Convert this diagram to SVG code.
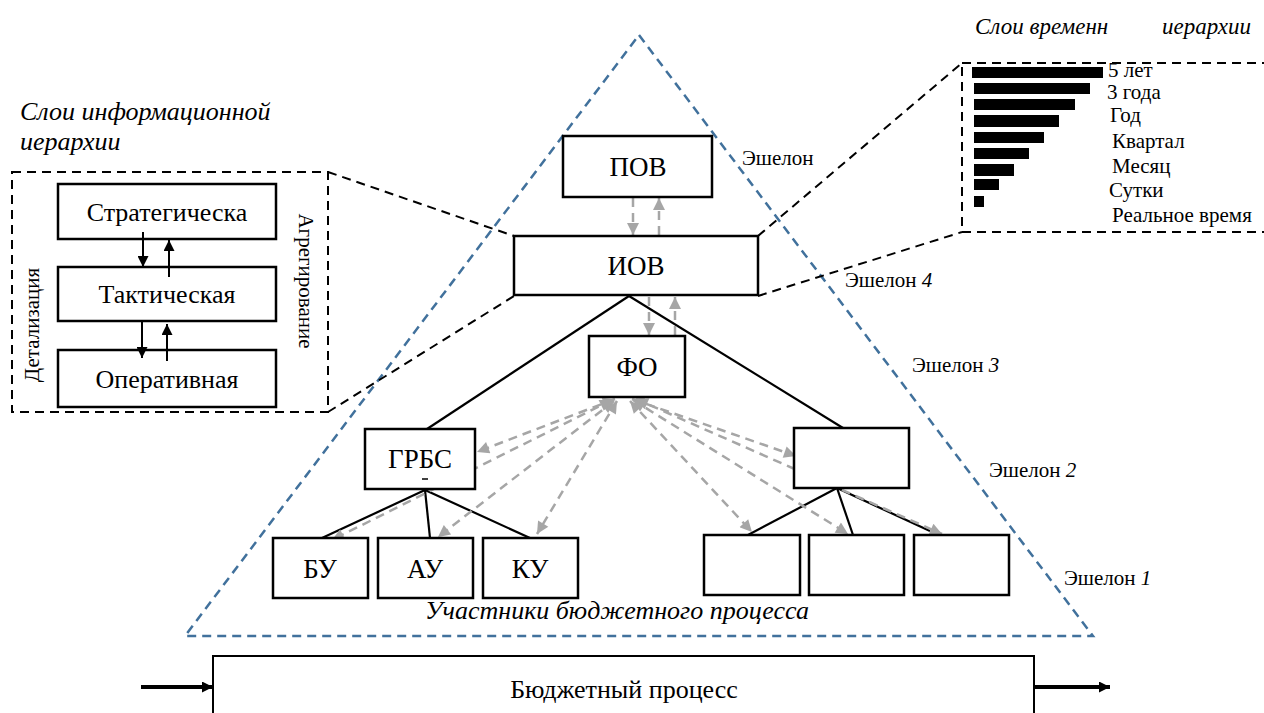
<svg xmlns="http://www.w3.org/2000/svg" width="1264" height="713" viewBox="0 0 1264 713" font-family="'Liberation Serif', 'Times New Roman', serif">
<style>
text{font-family:"Liberation Serif","Times New Roman",serif;fill:#000}
.it{font-style:italic}
.box{fill:#fff;stroke:#000;stroke-width:2.5}
.tri{fill:none;stroke:#41719c;stroke-width:2.5;stroke-dasharray:9 6}
.proj{fill:none;stroke:#000;stroke-width:2;stroke-dasharray:9 6}
.tree{stroke:#000;stroke-width:2.2;fill:none}
.ga{stroke:#a6a6a6;stroke-width:2.5;stroke-dasharray:9 6;fill:none}
.ba{stroke:#000;stroke-width:2;fill:none}
.bar{fill:#000}
.lbl{font-size:27px;text-anchor:middle}
.lay{font-size:26px;text-anchor:middle}
.ech{font-size:21px}
.tl{font-size:21px}
</style>
<defs>
<marker id="mg" viewBox="0 0 10 10" refX="10" refY="5" markerWidth="15" markerHeight="12" markerUnits="userSpaceOnUse" orient="auto-start-reverse">
<path d="M0,0 L10,5 L0,10 z" fill="#a6a6a6"/>
</marker>
<marker id="mb" viewBox="0 0 10 10" refX="10" refY="5" markerWidth="13" markerHeight="11" markerUnits="userSpaceOnUse" orient="auto">
<path d="M0,0 L10,5 L0,10 z" fill="#000"/>
</marker>
</defs>

<!-- echelon triangle -->
<polygon class="tri" points="639,35 1093,636 185,636"/>

<!-- projection lines -->
<g id="projections">
<line class="proj" x1="328" y1="172" x2="514" y2="236"/>
<line class="proj" x1="328" y1="412" x2="514" y2="296"/>
<line class="proj" x1="758" y1="236" x2="962" y2="63"/>
<line class="proj" x1="758" y1="296" x2="962" y2="232"/>
</g>

<!-- info hierarchy panel -->
<g id="info-hierarchy">
<text class="it" x="20" y="120" font-size="26">Слои информационной</text>
<text class="it" x="20" y="150" font-size="26">иерархии</text>
<rect class="proj" x="12" y="172" width="316" height="240" fill="#fff"/>
<g id="strat"><rect class="box" x="58" y="184" width="218" height="55"/><text class="lay" x="167" y="221">Стратегическа</text></g>
<g id="tact"><rect class="box" x="58" y="267" width="218" height="54"/><text class="lay" x="167" y="303">Тактическая</text></g>
<g id="oper"><rect class="box" x="58" y="350" width="218" height="57"/><text class="lay" x="167" y="388">Оперативная</text></g>
<text x="32" y="325" font-size="21" text-anchor="middle" transform="rotate(-90 32 325)" dominant-baseline="central">Детализация</text>
<text x="306" y="281" font-size="21" text-anchor="middle" transform="rotate(90 306 281)" dominant-baseline="central">Агрегирование</text>
<line class="ba" x1="143" y1="232" x2="143" y2="267" marker-end="url(#mb)"/>
<line class="ba" x1="169" y1="277" x2="169" y2="240" marker-end="url(#mb)"/>
<line class="ba" x1="142" y1="322" x2="142" y2="358" marker-end="url(#mb)"/>
<line class="ba" x1="167" y1="361" x2="167" y2="324" marker-end="url(#mb)"/>
</g>

<!-- time hierarchy panel -->
<g id="time-hierarchy">
<text class="it" font-size="23" y="34"><tspan x="975">Слои временн</tspan><tspan x="1162">иерархии</tspan></text>
<rect class="proj" x="962" y="63" width="340" height="169" fill="#fff"/>
<rect class="bar" x="972" y="67" width="131" height="11"/>
<rect class="bar" x="974" y="83" width="116" height="11"/>
<rect class="bar" x="974" y="99" width="101" height="11"/>
<rect class="bar" x="974" y="115" width="85" height="12"/>
<rect class="bar" x="974" y="132" width="70" height="11"/>
<rect class="bar" x="974" y="148" width="55" height="11"/>
<rect class="bar" x="974" y="164" width="40" height="12"/>
<rect class="bar" x="974" y="179" width="25" height="11"/>
<rect class="bar" x="974" y="196" width="10" height="11"/>
<text class="tl" x="1108" y="77">5 лет</text>
<text class="tl" x="1107" y="99">3 года</text>
<text class="tl" x="1110" y="122">Год</text>
<text class="tl" x="1112" y="148">Квартал</text>
<text class="tl" x="1112" y="173">Месяц</text>
<text class="tl" x="1109" y="197">Сутки</text>
<text class="tl" x="1112" y="222">Реальное время</text>
</g>

<!-- echelon labels -->
<g id="echelons">
<text class="ech" x="742" y="165">Эшелон</text>
<text class="ech" x="845" y="287">Эшелон <tspan class="it">4</tspan></text>
<text class="ech" x="912" y="372">Эшелон <tspan class="it">3</tspan></text>
<text class="ech" x="989" y="477">Эшелон <tspan class="it">2</tspan></text>
<text class="ech" x="1064" y="585">Эшелон <tspan class="it">1</tspan></text>
</g>

<!-- connectors -->
<g id="connectors">
<line class="tree" x1="629" y1="296" x2="427" y2="429"/>
<line class="tree" x1="629" y1="296" x2="843" y2="428"/>
<line class="tree" x1="425" y1="490" x2="322" y2="538"/>
<line class="tree" x1="425" y1="490" x2="430" y2="538"/>
<line class="tree" x1="425" y1="490" x2="530" y2="538"/>
<line class="tree" x1="837" y1="488" x2="748" y2="535"/>
<line class="tree" x1="837" y1="488" x2="853" y2="535"/>
<line class="tree" x1="837" y1="488" x2="930" y2="531"/>
<line class="ga" x1="633" y1="198" x2="633" y2="235" marker-end="url(#mg)"/>
<line class="ga" x1="659" y1="235" x2="659" y2="198" marker-end="url(#mg)"/>
<line class="ga" x1="649" y1="297" x2="649" y2="335" marker-end="url(#mg)"/>
<line class="ga" x1="675" y1="335" x2="675" y2="297" marker-end="url(#mg)"/>
<line class="ga" x1="615" y1="399" x2="477" y2="452" marker-start="url(#mg)" marker-end="url(#mg)"/>
<line class="ga" x1="612" y1="400" x2="332" y2="540" marker-start="url(#mg)" marker-end="url(#mg)"/>
<line class="ga" x1="614" y1="401" x2="438" y2="537" marker-start="url(#mg)" marker-end="url(#mg)"/>
<line class="ga" x1="617" y1="401" x2="537" y2="534" marker-start="url(#mg)" marker-end="url(#mg)"/>
<line class="ga" x1="632" y1="399" x2="796" y2="456" marker-start="url(#mg)" marker-end="url(#mg)"/>
<line class="ga" x1="630" y1="401" x2="752" y2="532" marker-start="url(#mg)" marker-end="url(#mg)"/>
<line class="ga" x1="633" y1="400" x2="848" y2="534" marker-start="url(#mg)" marker-end="url(#mg)"/>
<line class="ga" x1="636" y1="399" x2="942" y2="534" marker-start="url(#mg)" marker-end="url(#mg)"/>
</g>

<!-- nodes -->
<g id="pov"><rect class="box" x="563" y="136" width="149" height="61"/><text class="lbl" x="638" y="176">ПОВ</text></g>
<g id="iov"><rect class="box" x="514" y="236" width="244" height="59"/><text class="lbl" x="636" y="275">ИОВ</text></g>
<g id="fo"><rect class="box" x="589" y="336" width="96" height="61"/><text class="lbl" x="637" y="376">ФО</text></g>
<g id="grbs"><rect class="box" x="365" y="429" width="110" height="60"/><text class="lbl" x="420" y="468">ГРБС</text><line x1="422" y1="479" x2="428" y2="479" stroke="#000" stroke-width="1.5"/></g>
<g id="bu"><rect class="box" x="273" y="538" width="95" height="60"/><text class="lbl" x="320" y="578">БУ</text></g>
<g id="au"><rect class="box" x="378" y="538" width="95" height="60"/><text class="lbl" x="425" y="578">АУ</text></g>
<g id="ku"><rect class="box" x="483" y="538" width="95" height="60"/><text class="lbl" x="530" y="578">КУ</text></g>
<g id="r2"><rect class="box" x="794" y="428" width="115" height="60"/></g>
<g id="r1a"><rect class="box" x="704" y="535" width="96" height="60"/></g>
<g id="r1b"><rect class="box" x="809" y="535" width="95" height="60"/></g>
<g id="r1c"><rect class="box" x="914" y="535" width="95" height="60"/></g>

<text class="it" x="617" y="619" font-size="26" text-anchor="middle">Участники бюджетного процесса</text>

<!-- budget process -->
<g id="budget">
<rect x="213" y="656" width="821" height="80" fill="#fff" stroke="#000" stroke-width="2"/>
<text x="624" y="698" font-size="26" text-anchor="middle">Бюджетный процесс</text>
</g>
<g id="process-arrows">
<line x1="141" y1="687" x2="213" y2="687" stroke="#000" stroke-width="4" marker-end="url(#mb)"/>
<line x1="1034" y1="687" x2="1110" y2="687" stroke="#000" stroke-width="4" marker-end="url(#mb)"/>
</g>
</svg>
